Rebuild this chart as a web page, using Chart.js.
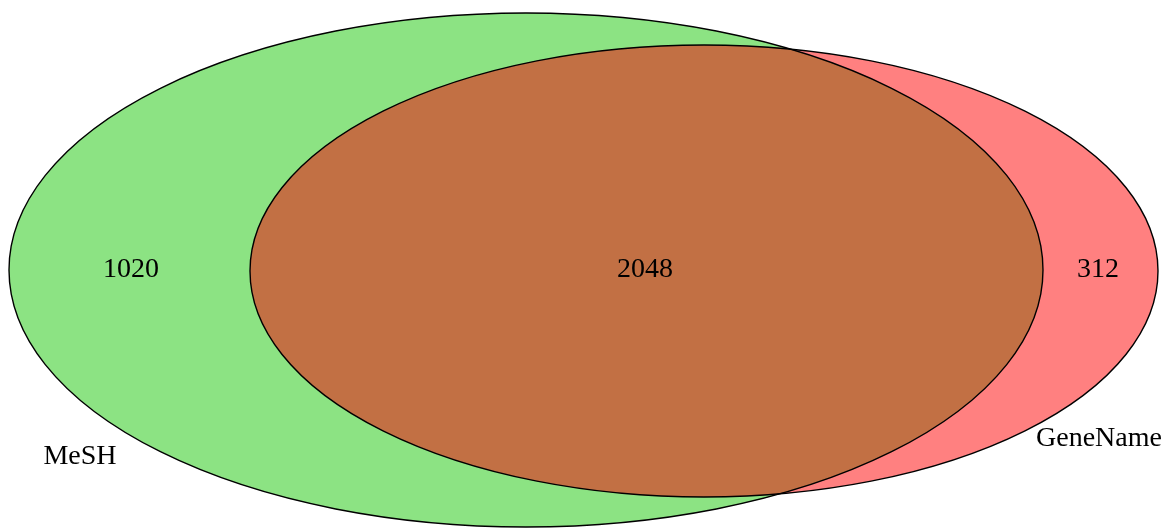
<!DOCTYPE html>
<html>
<head>
<meta charset="utf-8">
<script src="https://cdn.jsdelivr.net/npm/chart.js@4/dist/chart.umd.min.js"></script>
<style>
    html, body { margin: 0; padding: 0; background: #fff; }
    canvas { display: block; }
</style>
</head>
<body>
<canvas id="venn" width="1171" height="528"></canvas>
<script>
// set names and region counts
const setNames = ['MeSH', 'GeneName']
const onlyCounts = [1020, 312]
const sharedCount = 2048

// ellipse geometry in plot units (x: 0..1171, y: 0..528 from top)
const ellipseCx = [526, 704]
const ellipseCy = [270, 271]
const ellipseRx = [517, 454]
const ellipseRy = [257, 226]
const fillColors = ['#8ce383', '#ff8080']
const overlapColor = '#c27044'

// where the texts sit
const countPos = [[131, 270], [1098, 270]]
const sharedPos = [645, 270]
const namePos = [[80, 457], [1099, 439]]

const vennPlugin = {
    id: 'venn',
    beforeDatasetsDraw(chart) {
        const { ctx, scales } = chart
        const x = scales.x
        const y = scales.y

        const pathFor = (i) => {
            const cx = x.getPixelForValue(ellipseCx[i])
            const cy = y.getPixelForValue(ellipseCy[i])
            const rx = Math.abs(x.getPixelForValue(ellipseCx[i] + ellipseRx[i]) - cx)
            const ry = Math.abs(y.getPixelForValue(ellipseCy[i] + ellipseRy[i]) - cy)
            ctx.beginPath()
            ctx.ellipse(cx, cy, rx, ry, 0, 0, Math.PI * 2)
        }

        ctx.save()
        setNames.forEach((_, i) => {
            pathFor(i)
            ctx.fillStyle = fillColors[i]
            ctx.fill()
        })

        // overlap region
        ctx.save()
        pathFor(0)
        ctx.clip()
        pathFor(1)
        ctx.fillStyle = overlapColor
        ctx.fill()
        ctx.restore()

        ctx.strokeStyle = '#000'
        ctx.lineWidth = 1.4
        setNames.forEach((_, i) => {
            pathFor(i)
            ctx.stroke()
        })

        ctx.fillStyle = '#000'
        ctx.font = '28px "Liberation Serif", "Times New Roman", serif'
        ctx.textAlign = 'center'
        ctx.textBaseline = 'middle'
        onlyCounts.forEach((v, i) => {
            ctx.fillText(String(v), x.getPixelForValue(countPos[i][0]), y.getPixelForValue(countPos[i][1]))
        })
        ctx.fillText(String(sharedCount), x.getPixelForValue(sharedPos[0]), y.getPixelForValue(sharedPos[1]))
        setNames.forEach((name, i) => {
            ctx.fillText(name, x.getPixelForValue(namePos[i][0]), y.getPixelForValue(namePos[i][1]))
        })
        ctx.restore()
    },
}

new Chart(document.getElementById('venn'), {
    type: 'scatter',
    data: {
        datasets: [
            {
                data: ellipseCx.map((cx, i) => ({ x: cx, y: ellipseCy[i] })),
                pointRadius: 0,
                showLine: false,
            },
        ],
    },
    options: {
        responsive: false,
        animation: false,
        layout: { padding: 0 },
        plugins: {
            legend: { display: false },
            tooltip: { enabled: false },
        },
        scales: {
            x: { type: 'linear', min: 0, max: 1171, display: false },
            y: { type: 'linear', min: 0, max: 528, reverse: true, display: false },
        },
    },
    plugins: [vennPlugin],
})
</script>
</body>
</html>
